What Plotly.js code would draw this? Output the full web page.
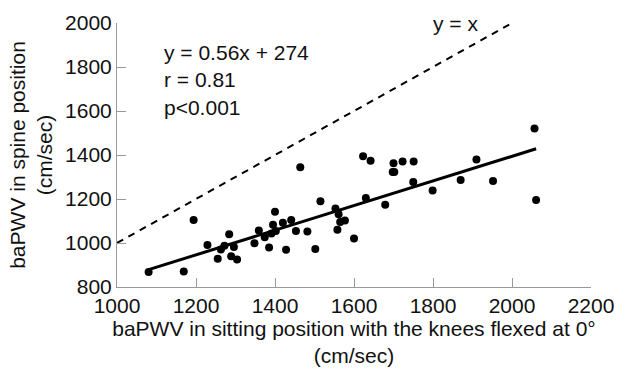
<!DOCTYPE html>
<html>
<head>
<meta charset="utf-8">
<script src="https://cdn.plot.ly/plotly-3.0.1.min.js"></script>
<style>html,body{margin:0;padding:0;background:#fff;}#chart{width:625px;height:370px;}</style>
</head>
<body>
<div id="chart"></div>
<script>
// baPWV sitting (x) vs spine (y), cm/sec
const sittingX = [1080, 1169, 1194, 1229, 1255, 1263, 1272, 1284, 1289, 1296, 1304,
  1348, 1359, 1374, 1385, 1391, 1395, 1400, 1402, 1420, 1428, 1441, 1453, 1464,
  1482, 1502, 1515, 1553, 1558, 1561, 1565, 1577, 1600, 1623, 1630, 1642, 1679,
  1698, 1702, 1700, 1723, 1750, 1751, 1799, 1870, 1910, 1952, 2057, 2061];
const spineY = [868, 871, 1105, 991, 928, 970, 988, 1040, 940, 982, 925,
  999, 1057, 1026, 979, 1043, 1083, 1142, 1054, 1092, 969, 1105, 1055, 1344,
  1052, 973, 1190, 1157, 1060, 1131, 1096, 1102, 1020, 1394, 1204, 1374, 1174,
  1323, 1323, 1362, 1370, 1277, 1371, 1239, 1286, 1379, 1282, 1520, 1195];
const fitSlope = [0.56];
const fitIntercept = [274];
const identityRange = [1000, 2000];
const xTicks = [1000, 1200, 1400, 1600, 1800, 2000, 2200];
const yTicks = [800, 1000, 1200, 1400, 1600, 1800, 2000];
const statsLines = ["y = 0.56x + 274", "r = 0.81", "p<0.001"];
const identityLabel = ["y = x"];

const fx = [Math.min(...sittingX), Math.max(...sittingX)];
const fy = fx.map(v => fitSlope[0] * v + fitIntercept[0]);

const FONT = "Arial, 'Liberation Sans', sans-serif";

const traces = [
  {x: identityRange, y: identityRange, mode: 'lines', type: 'scatter',
   line: {color: '#000', width: 2, dash: '7px,6px'}, hoverinfo: 'skip'},
  {x: fx, y: fy, mode: 'lines', type: 'scatter',
   line: {color: '#000', width: 3}, hoverinfo: 'skip'},
  {x: sittingX, y: spineY, mode: 'markers', type: 'scatter',
   marker: {color: '#000', size: 8}}
];

const axisCommon = {
  showgrid: false, zeroline: false, showline: true,
  linecolor: '#999', linewidth: 1,
  ticks: 'inside', ticklen: 9, tickcolor: '#999', tickwidth: 1,
  tickfont: {family: FONT, size: 21, color: '#111'},
  automargin: false
};

const layout = {
  width: 625, height: 370,
  margin: {l: 117, r: 34, t: 23, b: 83},
  paper_bgcolor: '#fff', plot_bgcolor: '#fff',
  showlegend: false,
  font: {family: FONT, color: '#111'},
  xaxis: Object.assign({}, axisCommon, {
    range: [1000, 2200], tickvals: xTicks, ticktext: xTicks.map(String),
    title: {text: 'baPWV in sitting position with the knees flexed at 0°<br>(cm/sec)',
            font: {family: FONT, size: 21, color: '#111'}, standoff: 4}
  }),
  yaxis: Object.assign({}, axisCommon, {
    range: [800, 2000], tickvals: yTicks, ticktext: yTicks.map(String),
    title: {text: 'baPWV in spine position<br>(cm/sec)',
            font: {family: FONT, size: 21, color: '#111'}, standoff: 6}
  }),
  annotations: [
    {xref: 'paper', yref: 'paper', x: 0.095, y: 0.94, xanchor: 'left', yanchor: 'top',
     text: statsLines.join('<br>'), showarrow: false, align: 'left',
     font: {family: FONT, size: 21, color: '#111'}},
    {xref: 'paper', yref: 'paper', x: 0.715, y: 1.0, xanchor: 'center', yanchor: 'middle',
     text: identityLabel[0], showarrow: false,
     font: {family: FONT, size: 21, color: '#111'}}
  ]
};

Plotly.newPlot('chart', traces, layout, {displayModeBar: false, staticPlot: true});
</script>
</body>
</html>
